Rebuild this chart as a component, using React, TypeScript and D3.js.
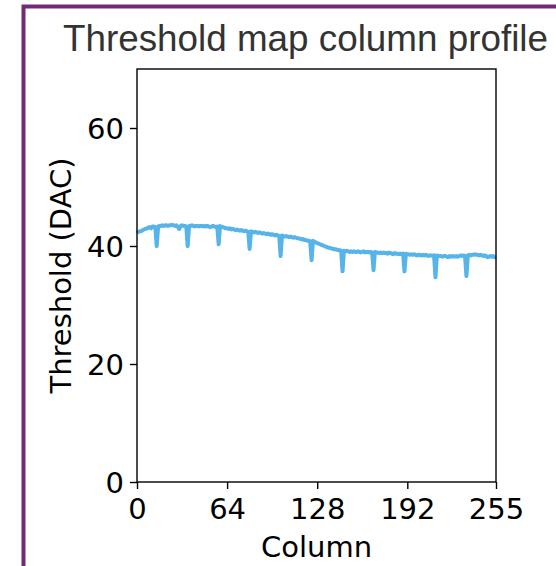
import React, { useEffect, useRef } from 'react';
import * as d3 from 'd3';

// mean threshold per column (DAC)
const thresholds = [
  42.2, 42.4, 42.5, 42.5, 42.7, 42.8, 42.9, 43.0, 43.1, 43.2, 43.0, 43.3, 43.3, 43.2, 40.0, 43.3,
  43.4, 43.4, 43.5, 43.4, 43.5, 43.5, 43.4, 43.5, 43.5, 43.6, 43.5, 43.4, 43.5, 43.2, 42.9, 43.4,
  43.5, 43.4, 43.4, 43.3, 40.0, 43.4, 43.4, 43.5, 43.4, 43.3, 43.4, 43.4, 43.3, 43.4, 43.4, 43.3,
  43.4, 43.3, 43.4, 43.3, 43.2, 43.3, 43.4, 43.3, 43.2, 43.3, 40.3, 43.4, 43.2, 43.2, 43.1, 43.0,
  43.0, 42.9, 43.0, 42.8, 42.9, 42.8, 42.7, 42.8, 42.7, 42.6, 42.7, 42.6, 42.5, 42.6, 42.5, 42.4,
  39.5, 42.5, 42.4, 42.3, 42.4, 42.3, 42.2, 42.3, 42.2, 42.1, 42.2, 42.1, 42.0, 42.1, 42.0, 41.9,
  42.0, 41.9, 41.8, 41.9, 41.8, 41.7, 38.3, 41.8, 41.7, 41.6, 41.7, 41.6, 41.5, 41.6, 41.5, 41.4,
  41.5, 41.4, 41.3, 41.3, 41.2, 41.1, 41.2, 41.0, 41.0, 40.9, 40.9, 40.8, 37.6, 40.9, 40.7, 40.6,
  40.5, 40.4, 40.3, 40.2, 40.1, 40.0, 39.9, 39.8, 39.7, 39.7, 39.6, 39.5, 39.5, 39.4, 39.4, 39.3,
  39.3, 39.2, 35.7, 39.2, 39.1, 39.2, 39.1, 39.0, 39.1, 39.0, 39.1, 39.0, 39.0, 39.1, 39.0, 38.9,
  39.0, 39.1, 38.9, 39.0, 39.0, 38.9, 39.0, 38.9, 35.9, 39.0, 38.9, 38.9, 38.8, 38.9, 38.8, 38.9,
  38.8, 38.8, 38.7, 38.9, 38.8, 38.7, 38.6, 38.8, 38.7, 38.7, 38.6, 38.7, 38.6, 38.7, 35.7, 38.7,
  38.6, 38.6, 38.5, 38.6, 38.5, 38.6, 38.5, 38.4, 38.5, 38.5, 38.4, 38.5, 38.4, 38.5, 38.4, 38.3,
  38.4, 38.4, 38.3, 38.4, 34.7, 38.4, 38.3, 38.3, 38.3, 38.2, 38.3, 38.3, 38.2, 38.1, 38.3, 38.2,
  38.3, 38.2, 38.2, 38.3, 38.2, 38.3, 38.4, 38.3, 38.4, 38.3, 34.9, 38.4, 38.5, 38.4, 38.5, 38.5,
  38.6, 38.5, 38.5, 38.4, 38.5, 38.4, 38.3, 38.4, 38.3, 38.1, 38.2, 38.3, 38.2, 38.3, 38.1, 38.2,
];
const xTicks = [0, 64, 128, 192, 255];
const yTicks = [0, 20, 40, 60];

export default function App() {
  const svgRef = useRef<SVGSVGElement>(null);

  useEffect(() => {
    if (!svgRef.current) return;
    const svg = d3.select(svgRef.current);
    svg.selectAll('*').remove();

    const W = 556, H = 566;
    const margin = { top: 69, right: 60, bottom: 84, left: 137 };
    const width = W - margin.left - margin.right;
    const height = H - margin.top - margin.bottom;
    const font = 'DejaVu Sans, sans-serif';

    svg.append('rect').attr('width', W).attr('height', H).attr('fill', '#fff');
    // purple frame
    svg.append('path')
      .attr('d', `M23.5,${H} V6.5 H${W}`)
      .attr('fill', 'none').attr('stroke', '#722a74').attr('stroke-width', 4);

    svg.append('text')
      .attr('x', 63).attr('y', 51)
      .attr('font-family', 'Liberation Sans, Arial, sans-serif')
      .attr('font-size', 37).attr('fill', '#333')
      .attr('textLength', 485).attr('lengthAdjust', 'spacingAndGlyphs')
      .text('Threshold map column profile');

    const x = d3.scaleLinear().domain([0, 255]).range([0, width]);
    const y = d3.scaleLinear().domain([0, 70]).range([height, 0]);

    const g = svg.append('g').attr('transform', `translate(${margin.left},${margin.top})`);

    const line = d3.line<number>().x((_, i) => x(i)).y(d => y(d));
    g.append('path')
      .datum(thresholds)
      .attr('d', line)
      .attr('fill', 'none')
      .attr('stroke', '#56B4E9')
      .attr('stroke-width', 4)
      .attr('stroke-linejoin', 'round');

    const xAxis = g.append('g').attr('transform', `translate(0,${height})`)
      .call(d3.axisBottom(x).tickValues(xTicks).tickSize(7).tickPadding(5).tickFormat(d3.format('d')));
    const yAxis = g.append('g')
      .call(d3.axisLeft(y).tickValues(yTicks).tickSize(7).tickPadding(6));
    [xAxis, yAxis].forEach(a => {
      a.select('.domain').remove();
      a.selectAll('line').attr('stroke', '#000').attr('stroke-width', 1.4);
      a.selectAll('text').attr('font-family', font).attr('font-size', 29).attr('fill', '#000');
    });
    xAxis.selectAll('text').attr('dy', '0.85em');
    yAxis.selectAll('text').attr('dy', '0.36em');

    g.append('rect')
      .attr('width', width).attr('height', height)
      .attr('fill', 'none').attr('stroke', '#000').attr('stroke-width', 1.4);

    svg.append('text')
      .attr('x', margin.left + width / 2).attr('y', 557)
      .attr('text-anchor', 'middle')
      .attr('font-family', font).attr('font-size', 29)
      .text('Column');

    svg.append('text')
      .attr('transform', `translate(71,${margin.top + height / 2}) rotate(-90)`)
      .attr('text-anchor', 'middle')
      .attr('font-family', font).attr('font-size', 29)
      .text('Threshold (DAC)');
  }, []);

  return (
    <svg ref={svgRef} width={556} height={566}
      style={{ position: 'absolute', left: 0, top: 0, display: 'block' }} />
  );
}
